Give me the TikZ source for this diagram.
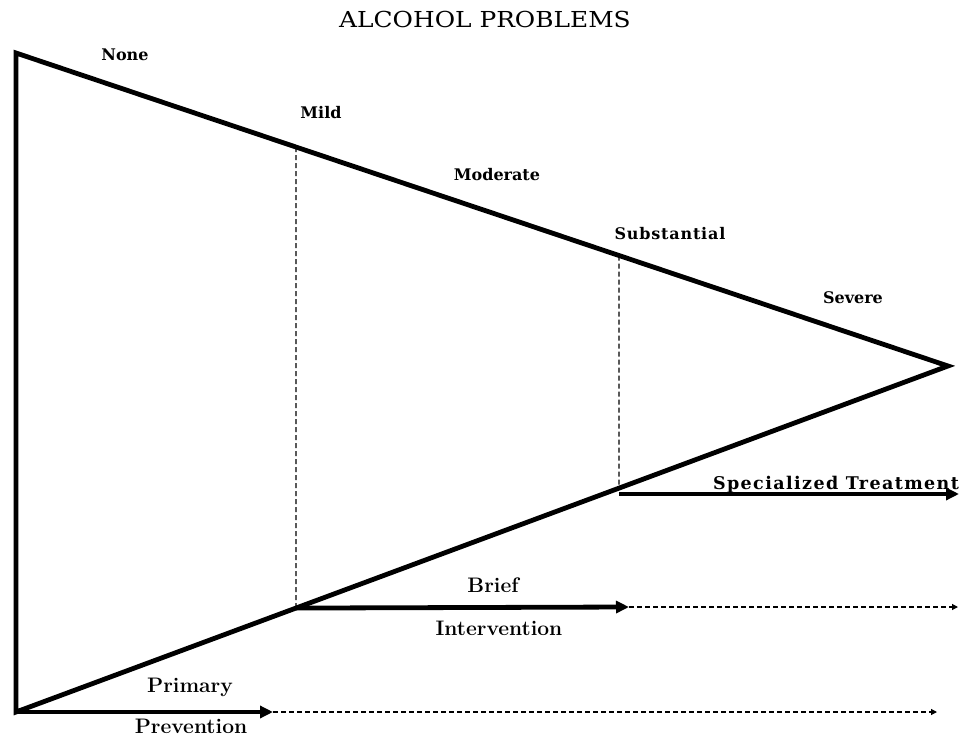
\documentclass[tikz,border=0pt]{standalone}
\usepackage{fontspec}
\usetikzlibrary{arrows.meta,calc}
\newfontfamily\titlefont{DejaVu Serif}
\newfontfamily\slabfont{DejaVu Serif}
\newfontfamily\condfont{Latin Modern Roman}
\begin{document}
\begin{tikzpicture}[x=1pt,y=-1pt,
  thick line/.style={line width=4.8pt,line join=miter,line cap=butt},
  dashline/.style={line width=1.2pt,dash pattern=on 5pt off 3pt},
  bigarrow/.style={line width=4.8pt,-{Triangle[length=13pt,width=12pt]}},
  smallarrow/.style={dashline,-{Triangle[length=6pt,width=6pt]}},
  title/.style={inner sep=0pt,anchor=base,font=\titlefont\fontsize{22}{24}\selectfont},
  level/.style={inner sep=0pt,anchor=base,font=\slabfont\bfseries\fontsize{16}{18}\selectfont},
  action/.style={inner sep=0pt,anchor=base,font=\condfont\bfseries\fontsize{21}{24}\selectfont}]
\useasboundingbox (0,0) rectangle (959,738);
% corners
\coordinate (TL) at (16,53);
\coordinate (BL) at (16,712);
\coordinate (AP) at (948,366);
\coordinate (M0) at (296,0);
\coordinate (M1) at (296,738);
\coordinate (S0) at (619,0);
\coordinate (S1) at (619,738);
\coordinate (mT) at (intersection of TL--AP and M0--M1);
\coordinate (mB) at (intersection of BL--AP and M0--M1);
\coordinate (sT) at (intersection of TL--AP and S0--S1);
\coordinate (sB) at (intersection of BL--AP and S0--S1);
% triangle
\draw[thick line] (TL) -- (AP) -- (BL) -- cycle;
% dashed dividers
\draw[dashline] (mT) -- (mB);
\draw[dashline] (sT) -- (sB);
% arrows
\coordinate (spS) at (619,494);
\coordinate (spE) at (959,494);
\draw[bigarrow] (spS) -- (spE);
\coordinate (brE) at (629,607);
\coordinate (brD) at (958,607);
\draw[bigarrow] (mB) -- (brE);
\draw[smallarrow] (brE) -- (brD);
\coordinate (prE) at (273,712);
\coordinate (prD) at (937,712);
\draw[bigarrow] (BL) -- (prE);
\draw[smallarrow] (prE) -- (prD);
% texts
\node[title] (t) at (485,28) {\scalebox{1.13}[1]{ALCOHOL PROBLEMS}};
\node[level] (none) at (125,61) {None};
\node[level] (mild) at (321,119) {Mild};
\node[level] (mod) at (497,181) {Moderate};
\node[level] (sub) at (670,240) {\addfontfeature{LetterSpace=5}Substantial};
\node[level] (sev) at (853,304) {Severe};
\node[level] (spec) at (836,489) {\fontsize{17.5}{19}\selectfont\addfontfeature{LetterSpace=8}Specialized Treatment};
\node[action] (brief) at (493,592) {Brief};
\node[action] (int) at (499,635) {Intervention};
\node[action] (prim) at (190,692) {Primary};
\node[action] (prev) at (191,733) {Prevention};
\end{tikzpicture}
\end{document}
